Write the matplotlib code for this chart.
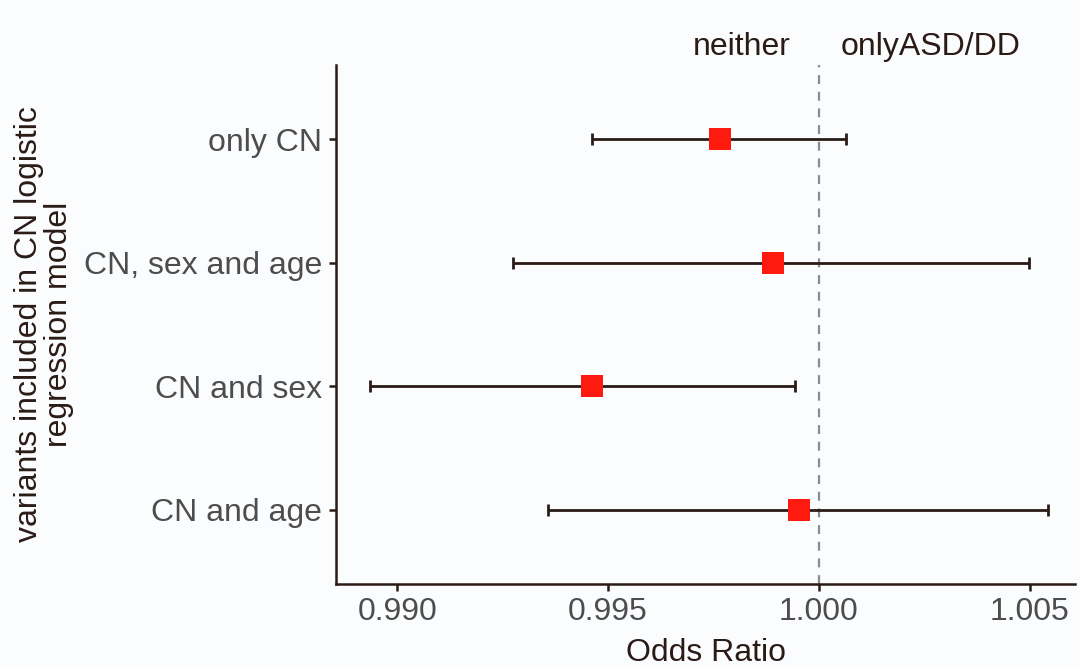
import matplotlib.pyplot as plt

plt.rcParams['font.family'] = ['Liberation Sans', 'DejaVu Sans']

# odds ratios with 95% confidence intervals, bottom to top
models = ['CN and age', 'CN and sex', 'CN, sex and age', 'only CN']
odds = [0.99953, 0.99462, 0.99891, 0.99765]
lower = [0.99358, 0.98936, 0.99275, 0.99462]
upper = [1.00543, 0.99943, 1.00498, 1.00064]

bg = '#FAFCFE'
ink = '#2B1B16'
tick_grey = '#4D4D4D'

fig = plt.figure(figsize=(10.8, 6.67), dpi=100, facecolor=bg)
ax = fig.add_axes([0.3111, 0.1244, 0.6843, 0.7781], facecolor=bg)

ypos = list(range(1, len(models) + 1))
ax.axvline(1.0, color='#8C8C8C', linestyle=(0, (4, 3.5)), linewidth=1.6, zorder=1)
xerr = [[o - l for o, l in zip(odds, lower)], [u - o for o, u in zip(odds, upper)]]
ax.errorbar(odds, ypos, xerr=xerr, fmt='none', ecolor=ink, elinewidth=2,
            capsize=4, capthick=2, zorder=2)
ax.scatter(odds, ypos, marker='s', s=260, color='#FF1A0F', linewidths=0, zorder=3)

ax.set_xlim(0.98855, 1.00607)
ax.set_ylim(0.4, 4.6)
ax.set_xticks([0.990, 0.995, 1.000, 1.005])
ax.set_xticklabels(['0.990', '0.995', '1.000', '1.005'])
ax.set_yticks(ypos)
ax.set_yticklabels(models)

for side in ['top', 'right']:
    ax.spines[side].set_visible(False)
for side in ['left', 'bottom']:
    ax.spines[side].set_color(ink)
    ax.spines[side].set_linewidth(1.8)
ax.tick_params(axis='both', colors=ink, width=1.8, length=5,
               labelsize=23, labelcolor=tick_grey, pad=4)
ax.tick_params(axis='y', pad=5)

ax.set_xlabel('Odds Ratio', fontsize=23, color=ink, labelpad=8)
ax.set_ylabel('variants included in CN logistic\nregression model', fontsize=23,
              color=ink, labelpad=7, linespacing=1.0)

# direction labels either side of the null line
ax.text(0.99816, 1.005, 'neither', transform=ax.get_xaxis_transform(),
        ha='center', va='bottom', fontsize=23, color=ink)
ax.text(1.00265, 1.005, 'onlyASD/DD', transform=ax.get_xaxis_transform(),
        ha='center', va='bottom', fontsize=23, color=ink)

fig.savefig('out.png', dpi=100, facecolor=bg)
